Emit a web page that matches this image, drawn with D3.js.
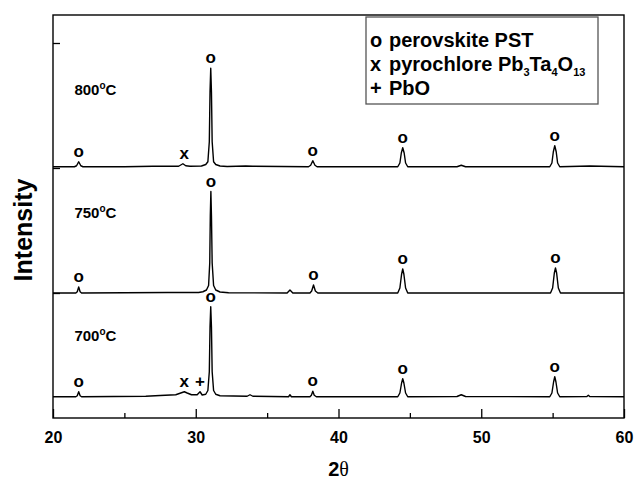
<!DOCTYPE html>
<html>
<head>
<meta charset="utf-8">
<script src="https://cdn.jsdelivr.net/npm/d3@7"></script>
<style>
  body { margin: 0; background: #fff; }
  text { font-family: "Liberation Sans", Arial, sans-serif; font-weight: bold; fill: #000; }
</style>
</head>
<body>
<div id="chart"></div>
<script>
// XRD patterns, 2theta vs counts above each trace's own background
var temps = ["700", "750", "800"];
var offsets = [170, 1000, 2010];

var trace700 = [[20,0],[21.6,0],[21.7,8],[21.8,40],[21.9,8],[22.0,0],[26.5,4],[27.5,10],[28.6,16],[29.0,32],[29.2,40],
  [29.4,30],[29.7,16],[30.1,16],[30.3,40],[30.45,14],[30.7,20],[30.85,50],[30.95,200],[31.0,560],[31.05,720],
  [31.1,560],[31.15,200],[31.25,50],[31.4,20],[31.7,8],[33.6,4],[33.8,16],[34.0,4],[36.5,0],[36.6,16],[36.7,0],
  [38.0,0],[38.1,12],[38.2,44],[38.3,12],[38.45,0],[44.15,0],[44.3,30],[44.42,110],[44.5,144],[44.58,110],
  [44.7,30],[44.85,0],[48.3,2],[48.6,16],[48.9,2],[54.8,0],[54.95,30],[55.07,120],[55.15,160],[55.23,120],
  [55.35,30],[55.5,0],[57.4,2],[57.5,12],[57.6,2],[60,0]];

var trace750 = [[20,0],[21.6,0],[21.7,10],[21.8,48],[21.9,10],[22.0,0],[28,4],[30.2,4],[30.5,10],[30.75,24],
  [30.9,60],[30.98,240],[31.02,620],[31.06,812],[31.1,620],[31.15,240],[31.25,60],[31.4,24],[31.7,8],[32.3,2],
  [36.4,0],[36.6,24],[36.8,0],[38.0,0],[38.12,16],[38.25,64],[38.38,16],[38.55,0],[44.15,0],[44.3,40],
  [44.42,150],[44.5,192],[44.58,150],[44.7,40],[44.85,0],[54.85,0],[55.0,40],[55.12,160],[55.2,200],
  [55.28,160],[55.4,40],[55.55,0],[60,0]];

var trace800 = [[20,0],[21.5,0],[21.65,8],[21.8,40],[21.95,8],[22.1,0],[25,0],[27,4],[28.8,4],[29.1,24],[29.3,8],
  [29.6,4],[30.4,6],[30.7,18],[30.85,40],[30.95,200],[31.0,600],[31.05,788],[31.1,600],[31.15,200],[31.25,40],
  [31.4,18],[31.7,6],[32.2,2],[33.5,6],[34,4],[37.9,0],[38.05,12],[38.2,48],[38.35,12],[38.5,0],[44.15,0],
  [44.3,30],[44.4,110],[44.5,152],[44.6,110],[44.7,30],[44.85,0],[48.3,0],[48.6,12],[48.9,0],[54.8,0],
  [54.95,30],[55.05,120],[55.15,168],[55.25,120],[55.35,30],[55.5,0],[57.6,6],[60,0]];

var traces = [trace700, trace750, trace800];

// phase markers: [2theta, symbol]
var marks700 = [[21.8,"o"],[29.2,"x"],[30.3,"+"],[31.05,"o"],[38.2,"o"],[44.5,"o"],[55.15,"o"]];
var marks750 = [[21.8,"o"],[31.06,"o"],[38.25,"o"],[44.5,"o"],[55.2,"o"]];
var marks800 = [[21.8,"o"],[29.2,"x"],[31.05,"o"],[38.2,"o"],[44.5,"o"],[55.15,"o"]];
var marks = [marks700, marks750, marks800];

var xMajor = [20, 30, 40, 50, 60];
var xMinor = [25, 35, 45, 55];
var yTicks = [1000, 2000, 3000];

var legendSymbols = ["o", "x", "+"];
var legendNames = [
  [["perovskite PST", 0]],
  [["pyrochlore Pb", 0], ["3", 1], ["Ta", 0], ["4", 1], ["O", 0], ["13", 1]],
  [["PbO", 0]]
];

var margin = {top: 15, right: 11, bottom: 61, left: 53},
    width = 635 - margin.left - margin.right,
    height = 479 - margin.top - margin.bottom;

var svg = d3.select("#chart")
  .append("svg")
    .attr("width", 635)
    .attr("height", 479);

var g = svg.append("g")
    .attr("transform", "translate(" + margin.left + "," + margin.top + ")");

var x = d3.scaleLinear().domain([20, 60]).range([0, width]);
var y = d3.scaleLinear().domain([0, 3224]).range([height, 0]);

// axes, ticks pointing in
var xAx = g.append("g")
    .attr("transform", "translate(0," + height + ")")
    .call(d3.axisBottom(x).tickValues(xMajor).tickSizeInner(-9).tickSizeOuter(0).tickPadding(14));
xAx.select(".domain").remove();
xAx.selectAll("text").style("font-size", "16px").style("font-family", "Liberation Sans, Arial, sans-serif").style("font-weight", "bold");
xAx.selectAll("line").attr("stroke-width", 1.3);

var xAx2 = g.append("g")
    .attr("transform", "translate(0," + height + ")")
    .call(d3.axisBottom(x).tickValues(xMinor).tickSizeInner(-5).tickSizeOuter(0).tickFormat(""));
xAx2.select(".domain").remove();
xAx2.selectAll("line").attr("stroke-width", 1.3);

var yAx = g.append("g")
    .call(d3.axisLeft(y).tickValues(yTicks).tickSizeInner(-7).tickSizeOuter(0).tickFormat(""));
yAx.select(".domain").remove();
yAx.selectAll("line").attr("stroke-width", 1.3);

g.append("rect")
    .attr("width", width)
    .attr("height", height)
    .attr("fill", "none")
    .attr("stroke", "#000")
    .attr("stroke-width", 1.4);

var line = d3.line()
    .x(function (d) { return x(d[0]); })
    .y(function (d) { return y(d[1] + d.off); });

traces.forEach(function (tr, i) {
  var pts = tr.map(function (p) { var q = [p[0], p[1]]; q.off = offsets[i]; return q; });
  g.append("path")
    .datum(pts)
    .attr("fill", "none")
    .attr("stroke", "#000")
    .attr("stroke-width", 1.4)
    .attr("stroke-linejoin", "round")
    .attr("d", line);

  // marker symbols above the peaks
  g.selectAll(".mk" + i)
    .data(marks[i])
    .enter()
    .append("text")
      .attr("x", function (d) { return x(d[0]); })
      .attr("y", function (d) {
        var top = d3.max(tr.filter(function (p) { return Math.abs(p[0] - d[0]) < 0.25; }), function (p) { return p[1]; });
        return y(top + offsets[i]) - 5;
      })
      .attr("text-anchor", "middle")
      .style("font-size", "17px")
      .text(function (d) { return d[1]; });
});

// temperature labels
var tempLift = [56, 75, 72];
temps.forEach(function (t, i) {
  var tx = g.append("text")
      .attr("x", x(21.5))
      .attr("y", y(offsets[i]) - tempLift[i])
      .style("font-size", "15px");
  tx.append("tspan").text(t);
  tx.append("tspan").attr("dy", -6).style("font-size", "10px").text("o");
  tx.append("tspan").attr("dy", 6).text("C");
});

// legend
var lg = svg.append("g");
lg.append("rect")
    .attr("x", 366).attr("y", 17)
    .attr("width", 232).attr("height", 87)
    .attr("fill", "#fff")
    .attr("stroke", "#555")
    .attr("stroke-width", 1.3);
legendSymbols.forEach(function (s, i) {
  var by = 47 + i * 24;
  lg.append("text").attr("x", 370).attr("y", by).style("font-size", "20px").text(s);
  var t = lg.append("text").attr("x", 389).attr("y", by).style("font-size", "20px");
  var sub = false;
  legendNames[i].forEach(function (part) {
    var ts = t.append("tspan").text(part[0]);
    if (part[1] && !sub) { ts.attr("dy", 5).style("font-size", "11px"); sub = true; }
    else if (!part[1] && sub) { ts.attr("dy", -5); sub = false; }
  });
});

// axis titles
var xt = svg.append("text")
    .attr("x", margin.left + width / 2)
    .attr("y", 476)
    .attr("text-anchor", "middle")
    .style("font-size", "20px");
xt.append("tspan").text("2");
xt.append("tspan").style("font-weight", "normal").style("font-family", "Liberation Serif, serif").text("θ");

svg.append("text")
    .attr("transform", "translate(32,230) rotate(-90)")
    .attr("text-anchor", "middle")
    .style("font-size", "25px")
    .text("Intensity");
</script>
</body>
</html>
